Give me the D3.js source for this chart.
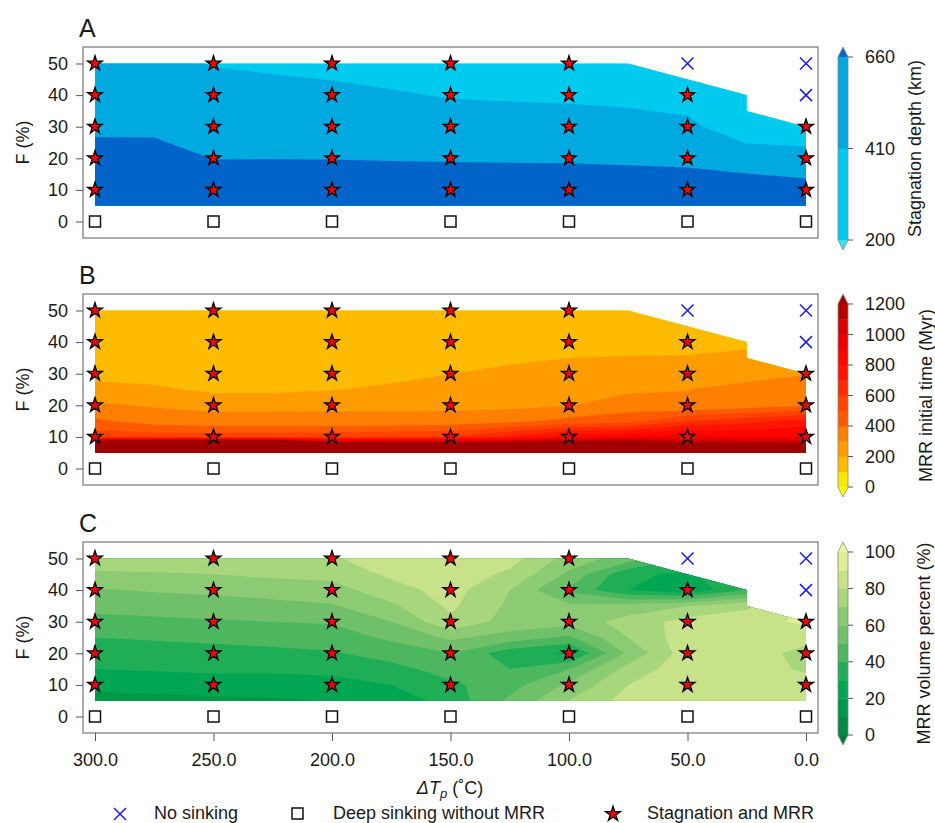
<!DOCTYPE html>
<html>
<head>
<meta charset="utf-8">
<script src="https://cdn.jsdelivr.net/npm/d3@7"></script>
<style>
  body { margin: 0; background: #fff; }
  text { font-family: "Liberation Sans", Arial, sans-serif; fill: #1a1a1a; }
</style>
</head>
<body>
<script>
// interpolation grid the fields were read on (dTp every 25, F every 5)
const gridT = [300, 275, 250, 225, 200, 175, 150, 125, 100, 75, 50, 25, 0];
const gridF = [50, 45, 40, 35, 30, 25, 20, 15, 10, 5];
// upper edge of the modelled region
const topEdge = [[300, 50], [75, 50], [25, 40], [25, 35], [0, 30]];

// stagnation depth (km), rows F=50..5, cols dTp=300..0
const depth = [
  [461, 462, 401, 379, 356, 318, 272, 256, 242, 218, 250, 250, 250],
  [504, 504, 443, 426, 406, 375, 334, 320, 308, 286, 250, 250, 250],
  [546, 547, 486, 472, 456, 430, 396, 384, 374, 355, 311, 250, 250],
  [589, 589, 531, 518, 506, 485, 458, 449, 440, 424, 387, 250, 250],
  [631, 632, 571, 565, 556, 541, 521, 513, 506, 492, 463, 271, 258],
  [674, 673, 614, 611, 606, 596, 583, 578, 573, 561, 540, 402, 381],
  [716, 715, 657, 657, 656, 651, 645, 642, 639, 630, 616, 534, 503],
  [759, 758, 699, 704, 706, 706, 707, 706, 705, 698, 692, 665, 626],
  [801, 800, 742, 750, 756, 762, 769, 771, 771, 767, 768, 797, 748],
  [844, 843, 785, 796, 806, 817, 831, 835, 837, 836, 844, 928, 871]
];
const depthBreaks = [200, 410, 660];
const depthColors = ['#3fe0f2', '#00cbee', '#00a9e0', '#0064c8'];
const depthTicks = [200, 410, 660];

// MRR initial time (Myr)
const mrrTime = [
  [120, 110, 115, 115, 115, 120, 120, 125, 130, 140, 130, 150, 200],
  [130, 120, 125, 125, 125, 130, 135, 140, 150, 155, 150, 160, 210],
  [140, 130, 135, 135, 135, 140, 150, 160, 170, 175, 170, 178, 220],
  [150, 140, 145, 145, 145, 150, 170, 185, 200, 204, 206, 225, 250],
  [170, 153, 160, 160, 160, 168, 199, 220, 235, 244, 250, 272, 297],
  [232, 220, 179, 179, 195, 221, 242, 256, 260, 284, 299, 325, 347],
  [315, 291, 276, 276, 284, 280, 277, 277, 295, 349, 309, 342, 386],
  [420, 350, 335, 335, 325, 330, 340, 372, 430, 460, 595, 664, 743],
  [560, 560, 560, 560, 570, 580, 605, 717, 850, 900, 950, 900, 900],
  [3480, 3480, 3480, 3480, 2350, 2350, 2255, 2086, 2000, 2000, 1575, 1600, 1600]
];
const timeBreaks = [0, 100, 200, 300, 400, 500, 600, 700, 800, 900, 1000, 1100, 1200];
const timeColors = ['#ffff00', '#ffe800', '#ffbb00', '#ff9c00', '#ff8000', '#ff5a00', '#ff4400',
  '#ff2a00', '#ff1400', '#ff0500', '#f00000', '#d80000', '#b80000', '#a00000'];
const timeTicks = [0, 200, 400, 600, 800, 1000, 1200];

// MRR volume percent (%)
const mrrVol = [
  [77, 77, 78, 78, 79, 85, 86, 84, 66, 55, 40, 40, 92],
  [68, 69, 70, 72, 73, 82, 86, 78, 58, 32, 28, 40, 92],
  [59, 61, 62, 64, 66, 76, 84, 70, 48, 30, 22, 40, 92],
  [53, 54, 56, 57, 59, 68, 82, 68, 62, 64, 70, 78, 92],
  [47, 48, 49, 50, 51, 60, 78, 66, 64, 74, 84, 86, 92],
  [40, 41, 42, 43, 45, 52, 62, 56, 48, 70, 86, 86, 84],
  [35, 36, 37, 38, 39, 44, 50, 34, 28, 62, 86, 86, 76],
  [30, 31, 32, 32, 33, 37, 44, 40, 50, 74, 86, 86, 78],
  [23, 24, 25, 25, 26, 30, 38, 46, 62, 80, 84, 86, 86],
  [16, 17, 18, 19, 20, 24, 34, 52, 70, 84, 84, 86, 86]
];
const volBreaks = [0, 10, 20, 30, 40, 50, 60, 70, 80, 90, 100];
const volColors = ['#007a38', '#008a42', '#009848', '#00a651', '#1fae56', '#4db760', '#6fc069',
  '#8ccb73', '#a8d67d', '#c7e289', '#e2ed97', '#f0f3a3'];
const volTicks = [0, 20, 40, 60, 80, 100];

// simulated runs
const runT = [300, 250, 200, 150, 100, 50, 0];
const runF = [0, 10, 20, 30, 40, 50];
// N = no sinking, D = deep sinking without MRR, S = stagnation and MRR (rows follow runF)
const outcome = ['DDDDDDD', 'SSSSSSS', 'SSSSSSS', 'SSSSSSS', 'SSSSSSN', 'SSSSSNN'];

const svg = d3.select('body').append('svg').attr('width', 935).attr('height', 823);

const x = d3.scaleLinear().domain([300, 0]).range([95, 806]);
const boxL = 83, boxR = 818, boxH = 191;

const panels = [
  { letter: 'A', top: 47, grid: depth, breaks: depthBreaks, colors: depthColors, ticks: depthTicks,
    even: true, title: 'Stagnation depth (km)', titleX: 921 },
  { letter: 'B', top: 294, grid: mrrTime, breaks: timeBreaks, colors: timeColors, ticks: timeTicks,
    even: false, title: 'MRR initial time (Myr)', titleX: 932 },
  { letter: 'C', top: 542, grid: mrrVol, breaks: volBreaks, colors: volColors, ticks: volTicks,
    even: false, title: 'MRR volume percent (%)', titleX: 930 }
];

const star = d3.symbol().type(d3.symbolStar).size(68);

panels.forEach(function(p) {
  const top = p.top;
  const y = d3.scaleLinear().domain([0, 50]).range([top + 174.5, top + 16.5]);
  const g = svg.append('g');

  // filled contours, clipped to the modelled region
  const fBottom = gridF[gridF.length - 1];
  const outline = [[gridT[0], fBottom]].concat(topEdge, [[gridT[gridT.length - 1], fBottom]]);
  const outlinePath = d3.line().x(d => x(d[0])).y(d => y(d[1]))(outline) + 'Z';
  const clipId = 'clip' + p.letter;
  svg.append('clipPath').attr('id', clipId).append('path').attr('d', outlinePath);

  const n = gridT.length, m = gridF.length;
  const dT = gridT[1] - gridT[0], dF = gridF[1] - gridF[0];
  const proj = d3.geoTransform({
    point: function(px, py) {
      this.stream.point(x(gridT[0] + (px - 0.5) * dT), y(gridF[0] + (py - 0.5) * dF));
    }
  });
  const path = d3.geoPath(proj);
  const bands = d3.contours().size([n, m]).thresholds(p.breaks)(p.grid.flat());

  const fill = g.append('g').attr('clip-path', 'url(#' + clipId + ')');
  fill.append('path').attr('d', outlinePath).attr('fill', p.colors[0]);
  fill.selectAll('path.band')
    .data(bands)
    .enter()
    .append('path')
    .attr('class', 'band')
    .attr('d', path)
    .attr('fill', (d, i) => p.colors[i + 1]);

  // frame
  g.append('rect')
    .attr('x', boxL).attr('y', top)
    .attr('width', boxR - boxL).attr('height', boxH)
    .attr('fill', 'none').attr('stroke', '#808080').attr('stroke-width', 1.3);

  // y axis
  const ya = g.append('g')
    .attr('transform', 'translate(' + boxL + ',0)')
    .call(d3.axisLeft(y).tickValues(runF).tickSize(7).tickPadding(8));
  ya.select('.domain').remove();
  ya.selectAll('line').attr('stroke', '#555');
  ya.selectAll('text').style('font-size', '18px').attr('fill', '#1a1a1a')
    .style('font-family', '"Liberation Sans", Arial, sans-serif');

  g.append('text')
    .attr('transform', 'translate(29,' + (top + boxH / 2) + ') rotate(-90)')
    .attr('text-anchor', 'middle')
    .style('font-size', '18px')
    .text('F (%)');

  g.append('text')
    .attr('x', 79).attr('y', top - 10)
    .style('font-size', '25px')
    .text(p.letter);

  // markers
  const pts = [];
  runF.forEach((f, j) => runT.forEach((t, i) => pts.push({ t: t, f: f, k: outcome[j][i] })));

  g.selectAll('path.star')
    .data(pts.filter(d => d.k === 'S'))
    .enter()
    .append('path')
    .attr('class', 'star')
    .attr('d', star)
    .attr('transform', d => 'translate(' + x(d.t) + ',' + y(d.f) + ')')
    .attr('fill', '#ff0000').attr('stroke', '#000').attr('stroke-width', 1.3)
    .attr('stroke-linejoin', 'miter');

  g.selectAll('rect.deep')
    .data(pts.filter(d => d.k === 'D'))
    .enter()
    .append('rect')
    .attr('class', 'deep')
    .attr('x', d => x(d.t) - 5.5).attr('y', d => y(d.f) - 5.5)
    .attr('width', 11).attr('height', 11)
    .attr('fill', 'none').attr('stroke', '#111').attr('stroke-width', 1.5);

  const cross = g.selectAll('g.none')
    .data(pts.filter(d => d.k === 'N'))
    .enter()
    .append('g')
    .attr('class', 'none')
    .attr('transform', d => 'translate(' + x(d.t) + ',' + y(d.f) + ')');
  cross.append('path').attr('d', 'M-6,-6L6,6M-6,6L6,-6')
    .attr('stroke', '#1a1aff').attr('stroke-width', 1.5);

  // colour key
  const cbX = 838, cbW = 10;
  const nb = p.breaks.length;
  const cbTop = top + 10, cbBot = top + 193;
  let cy;
  if (p.even) {
    cy = d3.scaleLinear().domain([0, nb - 1]).range([cbBot, cbTop]);
  } else {
    cy = d3.scaleLinear().domain([p.breaks[0], p.breaks[nb - 1]]).range([cbBot, cbTop]);
  }
  const posOf = (v, i) => p.even ? cy(i) : cy(v);
  const key = g.append('g');
  for (let i = 0; i < nb - 1; i++) {
    const y0 = posOf(p.breaks[i], i), y1 = posOf(p.breaks[i + 1], i + 1);
    key.append('rect')
      .attr('x', cbX).attr('y', y1).attr('width', cbW).attr('height', y0 - y1 + 0.4)
      .attr('fill', p.colors[i + 1]);
  }
  key.append('path')
    .attr('d', 'M' + cbX + ',' + cbTop + 'L' + (cbX + cbW / 2) + ',' + (cbTop - 10) + 'L' + (cbX + cbW) + ',' + cbTop + 'Z')
    .attr('fill', p.colors[p.colors.length - 1]);
  key.append('path')
    .attr('d', 'M' + cbX + ',' + cbBot + 'L' + (cbX + cbW / 2) + ',' + (cbBot + 10) + 'L' + (cbX + cbW) + ',' + cbBot + 'Z')
    .attr('fill', p.colors[0]);
  key.append('path')
    .attr('d', 'M' + cbX + ',' + cbBot + 'L' + (cbX + cbW / 2) + ',' + (cbBot + 10) + 'L' + (cbX + cbW) + ',' + cbBot +
      'L' + (cbX + cbW) + ',' + cbTop + 'L' + (cbX + cbW / 2) + ',' + (cbTop - 10) + 'L' + cbX + ',' + cbTop + 'Z')
    .attr('fill', 'none').attr('stroke', '#888').attr('stroke-width', 0.8);

  p.ticks.forEach(function(v) {
    const ty = posOf(v, p.breaks.indexOf(v));
    key.append('line').attr('x1', cbX + cbW).attr('x2', cbX + cbW + 5)
      .attr('y1', ty).attr('y2', ty).attr('stroke', '#555');
    key.append('text').attr('x', 865).attr('y', ty).attr('dy', '0.35em')
      .style('font-size', '18px').text(v);
  });

  g.append('text')
    .attr('transform', 'translate(' + p.titleX + ',' + ((cbTop + cbBot) / 2) + ') rotate(-90)')
    .attr('text-anchor', 'middle')
    .style('font-size', '18px')
    .text(p.title);

  // x axis on the last panel only
  if (p.letter === 'C') {
    const xa = g.append('g')
      .attr('transform', 'translate(0,' + (top + boxH) + ')')
      .call(d3.axisBottom(x).tickValues(runT).tickFormat(d3.format('.1f')).tickSize(8).tickPadding(12));
    xa.select('.domain').remove();
    xa.selectAll('line').attr('stroke', '#555');
    xa.selectAll('text').style('font-size', '18px').attr('fill', '#1a1a1a')
      .style('font-family', '"Liberation Sans", Arial, sans-serif');
  }
});

// x axis title
const xt = svg.append('text')
  .attr('x', 450).attr('y', 794)
  .attr('text-anchor', 'middle')
  .style('font-size', '18px');
xt.append('tspan').style('font-style', 'italic').text('\u0394T');
xt.append('tspan').style('font-style', 'italic').style('font-size', '13px').attr('dy', 4).text('p');
xt.append('tspan').attr('dy', -4).text(' (\u02daC)');

// legend
const lg = svg.append('g');
lg.append('path').attr('d', 'M114,808L126,820M114,820L126,808')
  .attr('stroke', '#1a1aff').attr('stroke-width', 1.5);
lg.append('text').attr('x', 154).attr('y', 819).style('font-size', '18px').text('No sinking');
lg.append('rect').attr('x', 292).attr('y', 808).attr('width', 11).attr('height', 11)
  .attr('fill', 'none').attr('stroke', '#111').attr('stroke-width', 1.5);
lg.append('text').attr('x', 333).attr('y', 819).style('font-size', '18px').text('Deep sinking without MRR');
lg.append('path').attr('d', star).attr('transform', 'translate(613,814)')
  .attr('fill', '#ff0000').attr('stroke', '#000').attr('stroke-width', 1.3);
lg.append('text').attr('x', 647).attr('y', 819).style('font-size', '18px').text('Stagnation and MRR');
</script>
</body>
</html>
